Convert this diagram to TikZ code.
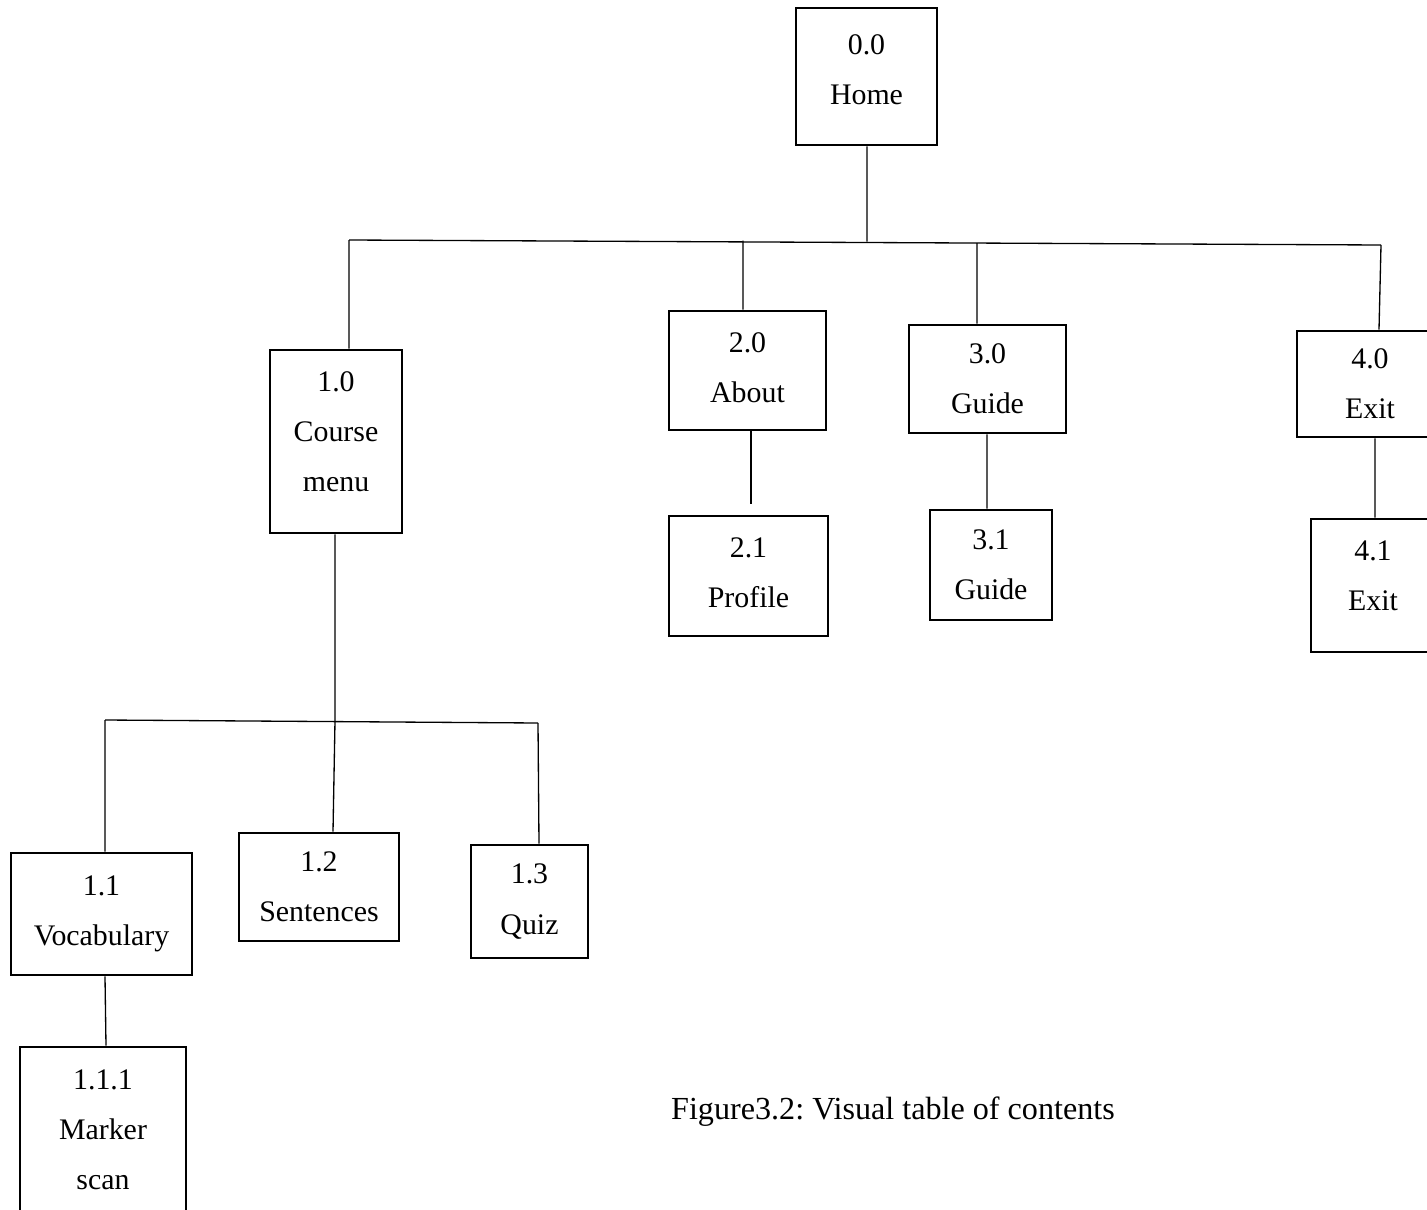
\documentclass[tikz,border=0pt]{standalone}
\usepackage{fontspec}
\setmainfont{Liberation Serif}
\frenchspacing
\tikzset{
  menubox/.style={draw, line width=1.6pt, align=center, inner sep=0pt,
    font=\fontsize{17}{28.5}\selectfont},
  lift/.style={text depth=#1},
  link/.style={line width=0.75pt}
}
\begin{document}
\begin{tikzpicture}[x=0.02cm, y=-0.02cm]
    \clip (0,0) rectangle (1427,1210);
    % boxes
    \node [menubox, lift=0.28cm, minimum width=2.82cm, minimum height=2.74cm] (home) at (866.5,76.5) {0.0\\Home};
    \node [menubox, lift=0.4cm, minimum width=2.64cm, minimum height=3.66cm] (course) at (336,441.5) {1.0\\Course\\menu};
    \node [menubox, lift=0.12cm, minimum width=3.14cm, minimum height=2.38cm] (about) at (747.5,370.5) {2.0\\About};
    \node [menubox, minimum width=3.14cm, minimum height=2.16cm] (guide) at (987.5,379) {3.0\\Guide};
    \node [menubox, minimum width=2.92cm, minimum height=2.12cm] (exit) at (1370,384) {4.0\\Exit};
    \node [menubox, lift=0.12cm, minimum width=3.18cm, minimum height=2.40cm] (profile) at (748.5,576) {2.1\\Profile};
    \node [menubox, minimum width=2.44cm, minimum height=2.20cm] (guidesub) at (991,565) {3.1\\Guide};
    \node [menubox, lift=0.4cm, minimum width=2.48cm, minimum height=2.66cm] (exitsub) at (1373,585.5) {4.1\\Exit};
    \node [menubox, minimum width=3.62cm, minimum height=2.44cm] (vocab) at (101.5,914) {1.1\\Vocabulary};
    \node [menubox, minimum width=3.20cm, minimum height=2.16cm] (sentences) at (319,887) {1.2\\Sentences};
    \node [menubox, minimum width=2.34cm, minimum height=2.26cm] (quiz) at (529.5,901.5) {1.3\\Quiz};
    \node [menubox, lift=0.28cm, minimum width=3.32cm, minimum height=3.60cm] (marker) at (103,1137) {1.1.1\\Marker\\scan};
    \node [font=\fontsize{18.3}{22}\selectfont] (caption) at (893,1112) {Figure3.2: Visual table of contents};
    % bus lines
    \coordinate (topL) at (349,240);
    \coordinate (topR) at (1381,245);
    \coordinate (topH) at (867,241.5);
    \coordinate (topA) at (743,240.5);
    \coordinate (topG) at (977,243);
    \coordinate (subL) at (105,720);
    \coordinate (subR) at (538,723);
    \coordinate (subM) at (335,721);
    \draw [link] (topL) -- (topR);
    \draw [link] (subL) -- (subR);
    % connectors
    \draw [link]
      (home.south -| topH) -- (topH)
      (topL) -- (topL |- course.north)
      (topA) -- (topA |- about.north)
      (topG) -- (topG |- guide.north)
      (topR) -- (1379,0 |- exit.north)
      (course.south -| subM) -- (subM)
      (subL) -- (subL |- vocab.north)
      (subM) -- (333,0 |- sentences.north)
      (subR) -- (539,0 |- quiz.north);
    \draw [link, shorten >=6pt]
      (751,0 |- about.south) -- (751,0 |- profile.north);
    \draw [link]
      (987,0 |- guide.south) -- (987,0 |- guidesub.north)
      (1375,0 |- exit.south) -- (1375,0 |- exitsub.north)
      (105,0 |- vocab.south) -- (106,0 |- marker.north);
\end{tikzpicture}
\end{document}
